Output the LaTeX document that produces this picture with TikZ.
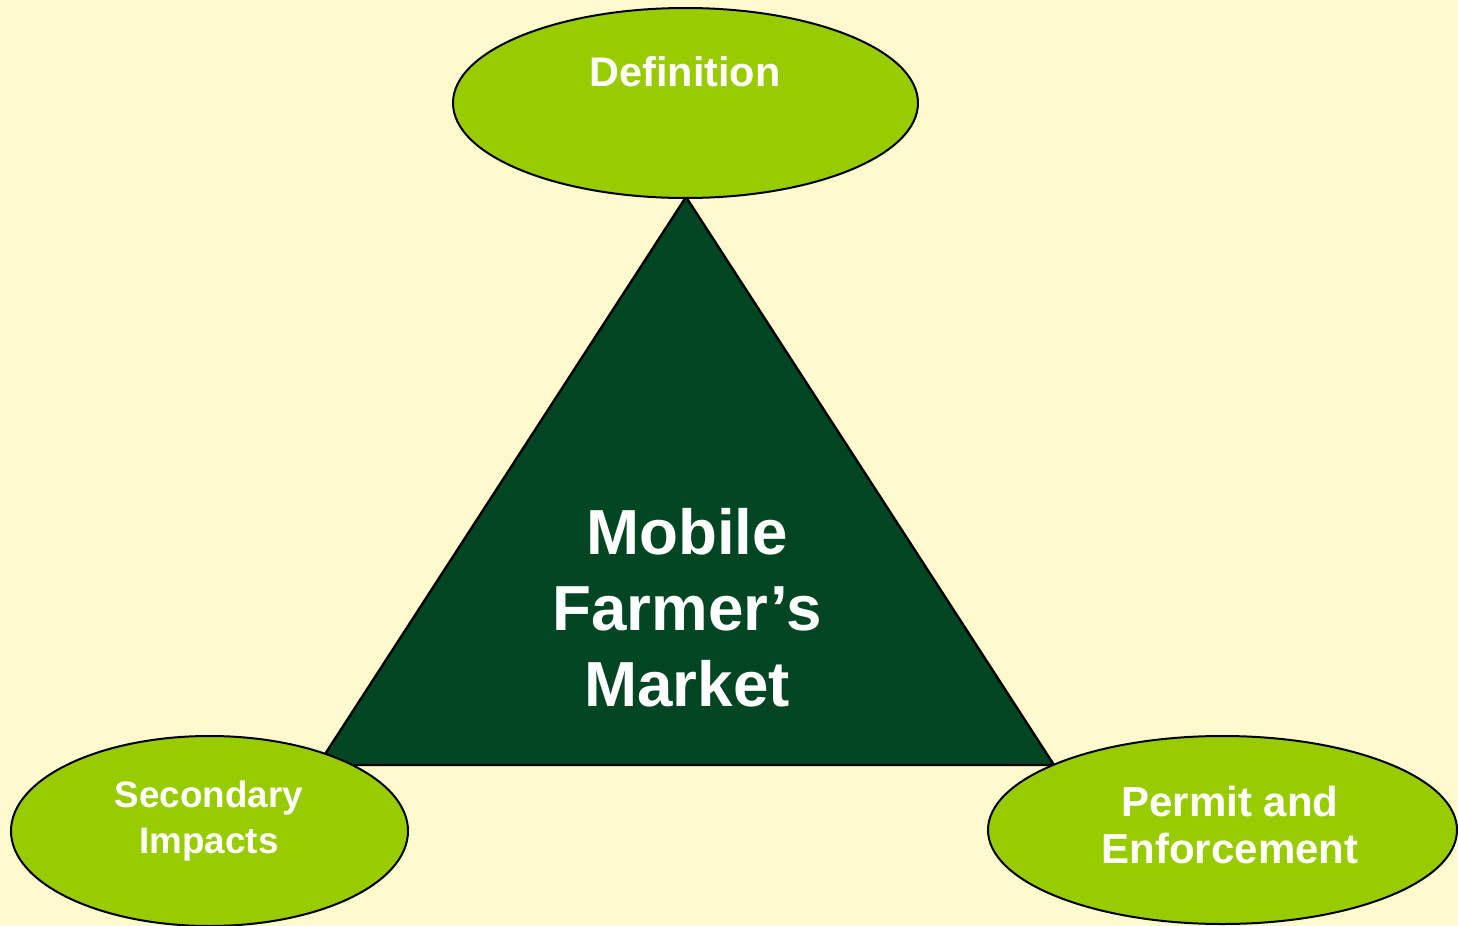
\documentclass[tikz,border=0pt]{standalone}
\usepackage{fontspec}
\setmainfont{Liberation Sans}
\usetikzlibrary{shapes.geometric}
\definecolor{paper}{RGB}{255,250,206}
\definecolor{leaf}{RGB}{153,204,0}
\definecolor{forest}{RGB}{0,70,35}
\tikzset{
  topic/.style={ellipse, draw=black, line width=1pt, fill=leaf, inner sep=0pt},
  toptext/.style={text=white, font=\bfseries, align=center, anchor=base, inner sep=0pt}
}
\begin{document}
\begin{tikzpicture}[x=0.5pt, y=-0.5pt]
  % canvas
  \fill[paper] (0,0) rectangle (1458,926);
  \useasboundingbox (0,0) rectangle (1458,926);

  % corners of the central triangle
  \coordinate (apex) at (686,197);
  \coordinate (bl) at (318,765);
  \coordinate (br) at (1054,765);
  \draw[fill=forest, line width=1.2pt, line join=miter] (apex) -- (bl) -- (br) -- cycle;

  % the three topic ellipses
  \node[topic, minimum width=232.5pt, minimum height=95pt] (def) at (685.5,103) {};
  \node[topic, minimum width=198.5pt, minimum height=95pt] (sec) at (209.5,831) {};
  \node[topic, minimum width=234.5pt, minimum height=94pt] (perm) at (1222.5,830) {};

  % labels (base anchor sits on the last line)
  \node[toptext, font=\bfseries\fontsize{20.7}{25}\selectfont] (deft) at (685,86) {Definition};
  \node[toptext, font=\bfseries\fontsize{31.85}{38}\selectfont] (mfm) at (687,706) {Mobile\\Farmer’s\\Market};
  \node[toptext, font=\bfseries\fontsize{18.4}{23}\selectfont] (sect) at (209,853) {Secondary\\Impacts};
  \node[toptext, font=\bfseries\fontsize{21}{23.3}\selectfont] (permt) at (1230,863) {Permit and\\Enforcement};
\end{tikzpicture}
\end{document}
